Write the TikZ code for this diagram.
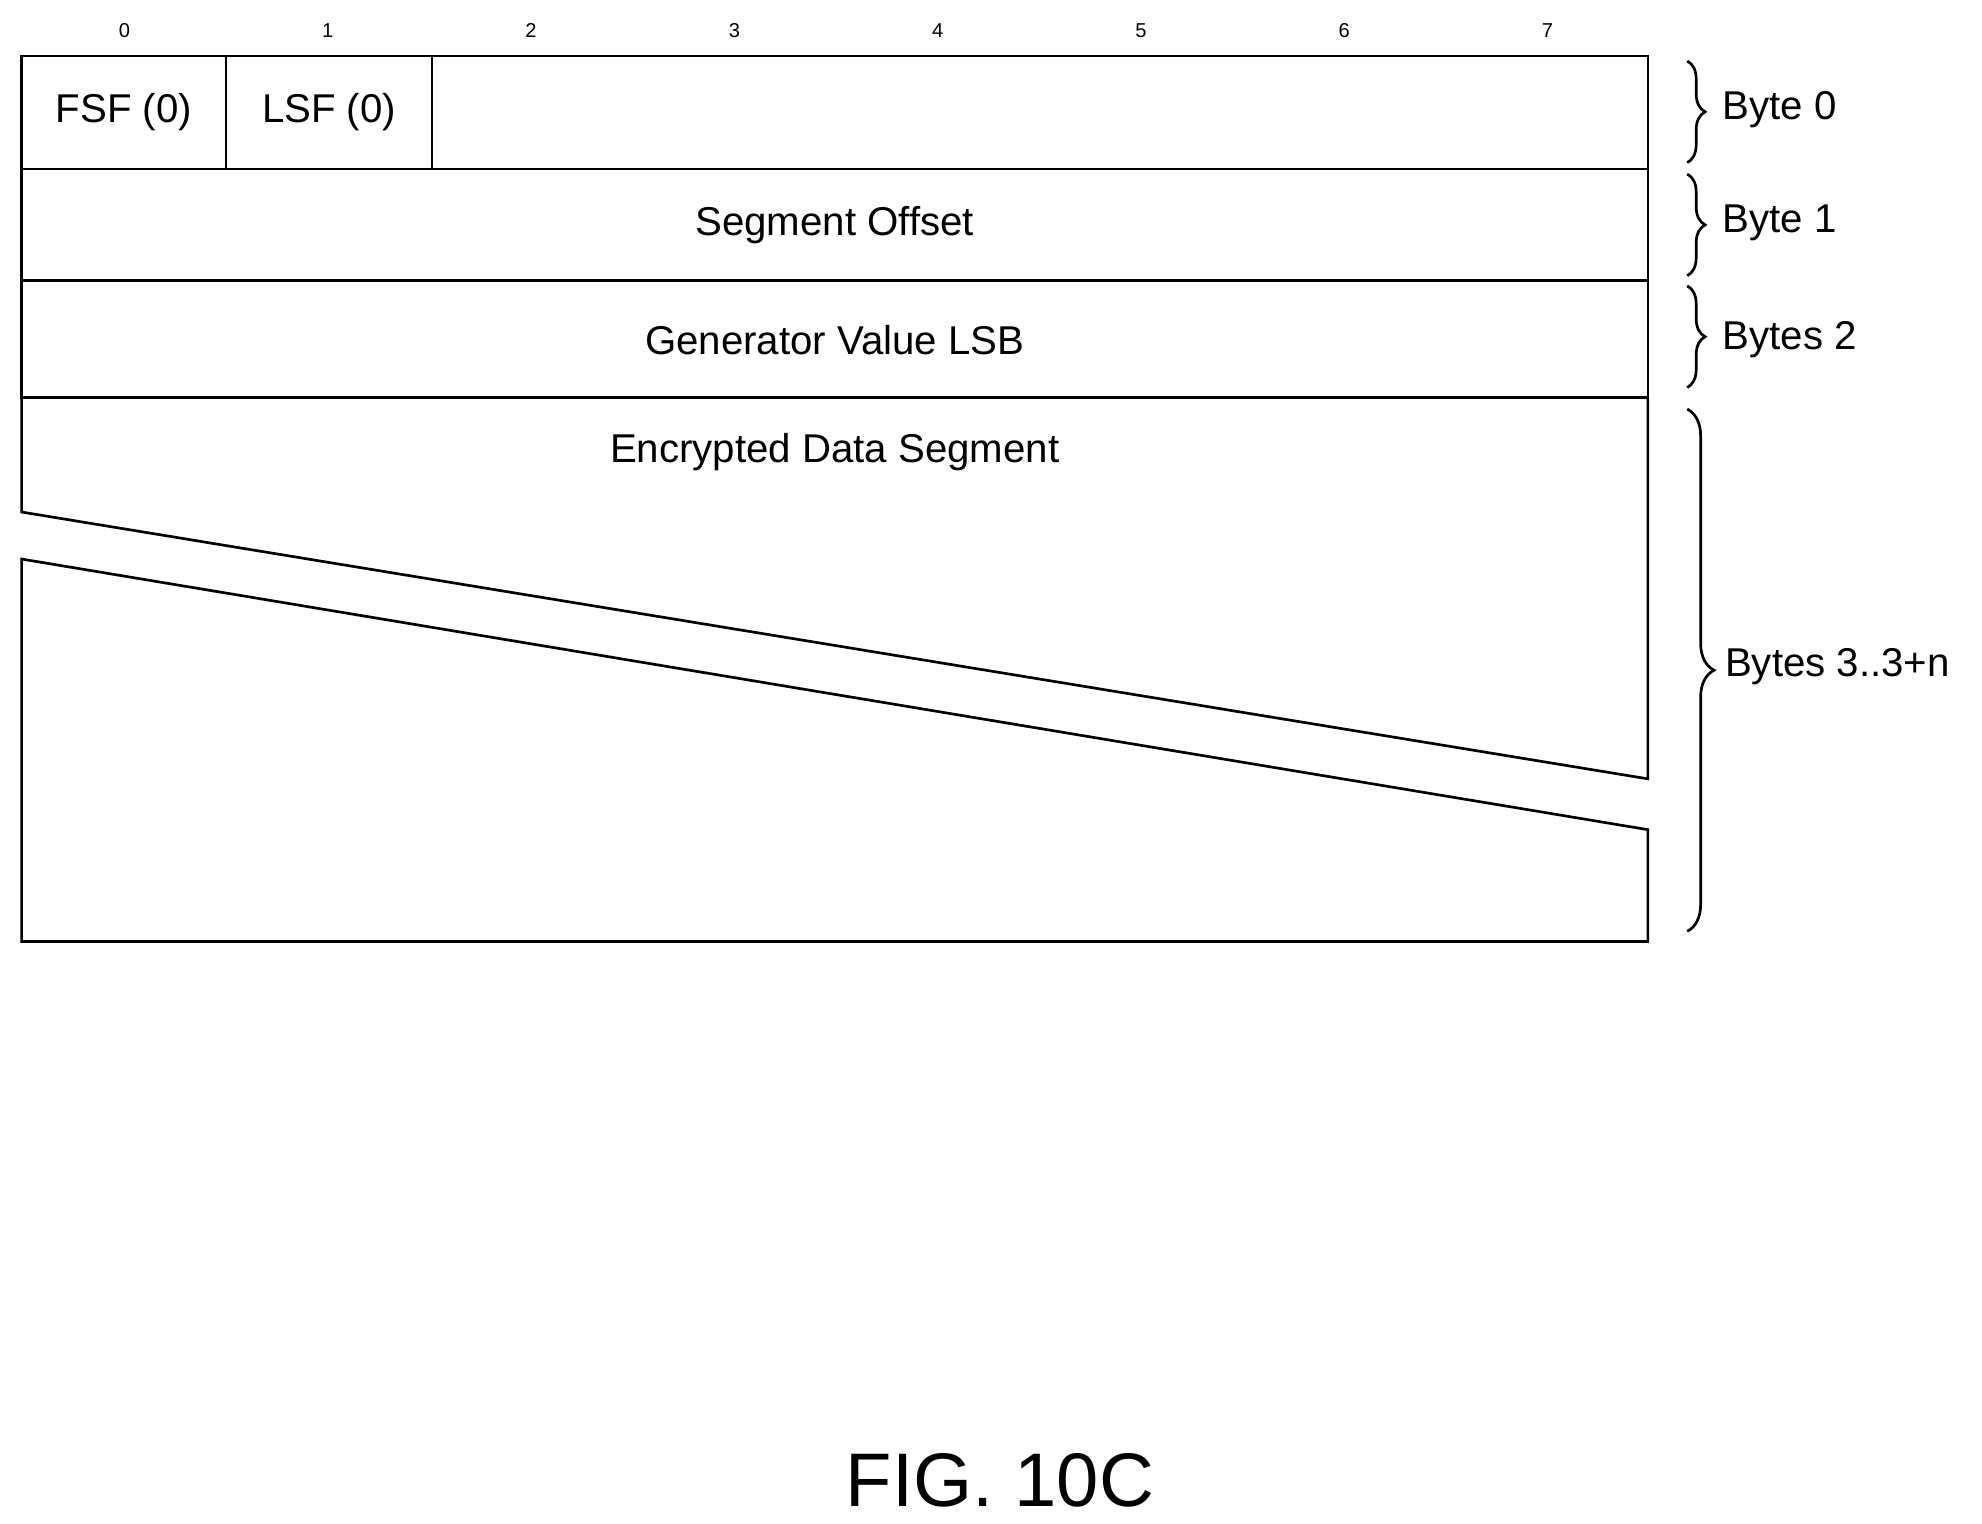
\documentclass[tikz,border=0pt]{standalone}
\usepackage{fontspec}
\setmainfont{Liberation Sans}
\usetikzlibrary{decorations.pathreplacing}
\tikzset{field/.style={font=\fontsize{9}{11}\selectfont},
  bitno/.style={font=\fontsize{4.5}{5}\selectfont},
  bytebrace/.style={decorate,decoration={brace,amplitude=4pt}},
  bytelabel/.style={anchor=west,font=\fontsize{9}{11}\selectfont}}
\begin{document}
\begin{tikzpicture}[x=0.01cm,y=-0.01cm,line width=0.6pt]
\useasboundingbox (0,0) rectangle (1560,1199);

% Bit numbers
\foreach \b in {0,...,7} {
    \node[bitno] (bit\b) at (98+\b*160,24) {\b};
}

% Byte 0
\draw (17,44) rectangle (1297,133);
\draw (17,44) rectangle (178,133);
\node[field] (fsf) at (97.5,88.5) {FSF (0)};
\draw (178,44) rectangle (340,133);
\node[field] (lsf) at (259,88.5) {LSF (0)};

% Byte 1 and 2
\draw (17,133) rectangle (1297,221);
\node[field] (segoff) at (657,177) {Segment Offset};
\draw (17,221) -- (17,313) -- (1297,313) -- (1297,221);
\node[field] (genval) at (657,268) {Generator Value LSB};

% Encrypted data with break
\draw (17,313) -- (17,403) -- (1297,613) -- (1297,313);
\draw (17,741) -- (17,440) -- (1297,653) -- (1297,741) -- cycle;
\node[field] (encdata) at (657,356) {Encrypted Data Segment};

% Braces
\draw[bytebrace] (1328,48) -- (1328,128);
\node[bytelabel] (byte0) at (1343,86) {Byte 0};
\draw[bytebrace] (1328,137) -- (1328,217);
\node[bytelabel] (byte1) at (1343,175) {Byte 1};
\draw[bytebrace] (1328,225) -- (1328,305);
\node[bytelabel] (byte2) at (1343,267) {Bytes 2};
\draw[bytebrace,decoration={amplitude=6pt}] (1328,322) -- (1328,733);
\node[bytelabel] (byte3) at (1345,525) {Bytes 3..3+n};

% Caption
\node[font=\fontsize{17}{20}\selectfont] (fig) at (787,1165) {FIG. 10C};
\end{tikzpicture}
\end{document}
